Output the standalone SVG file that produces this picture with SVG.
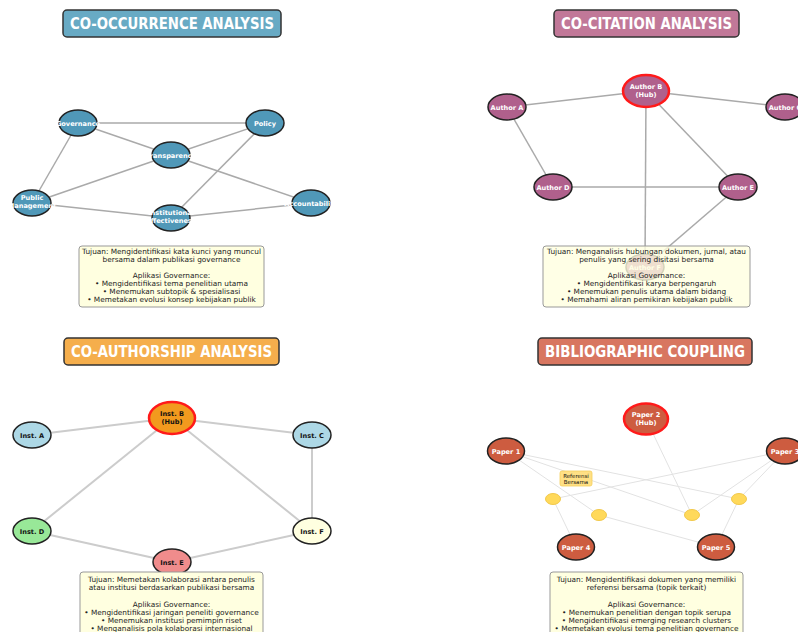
<svg xmlns="http://www.w3.org/2000/svg" width="798" height="632" viewBox="0 0 798 632">
<defs>
<style>
.title{font-family:"DejaVu Sans",sans-serif;font-weight:bold;font-size:15px;fill:#fff;text-anchor:middle}
.tbox{stroke:#333;stroke-width:1.5}
.nd{stroke:#222;stroke-width:1.5}
.hub{stroke:#ff1a1a;stroke-width:2.5}
.lw{font-family:"DejaVu Sans",sans-serif;font-weight:bold;font-size:6.6px;fill:#fff;text-anchor:middle}
.lb{font-family:"DejaVu Sans",sans-serif;font-weight:bold;font-size:6.6px;fill:#111;text-anchor:middle}
.info{fill:#ffffe0;stroke:#999;stroke-width:1}
.it{font-family:"DejaVu Sans",sans-serif;font-size:7.35px;fill:#222;text-anchor:middle}
.e1{stroke:#aaa;stroke-width:1.5;fill:none}
.e3{stroke:#ccc;stroke-width:2;fill:none}
.e4{stroke:#e2e2e2;stroke-width:1;fill:none}
.ref{fill:#ffd95a;stroke:#f2c94c;stroke-width:1}
</style>
</defs>
<rect width="798" height="632" fill="#fff"/>

<!-- ===== Panel 1: Co-occurrence ===== -->
<g id="title-cooccurrence">
<rect class="tbox" x="63" y="10" width="218" height="27" rx="4" fill="#68aac4"/>
<text class="title" x="172" y="29" textLength="204" lengthAdjust="spacingAndGlyphs">CO-OCCURRENCE ANALYSIS</text>
</g>
<g id="connectors-cooccurrence">
<line class="e1" x1="78" y1="123" x2="265" y2="123"/>
<line class="e1" x1="78" y1="123" x2="171" y2="155"/>
<line class="e1" x1="78" y1="123" x2="32" y2="203"/>
<line class="e1" x1="171" y1="155" x2="265" y2="123"/>
<line class="e1" x1="171" y1="155" x2="32" y2="203"/>
<line class="e1" x1="171" y1="155" x2="311" y2="203" stroke="#999"/>
<line class="e1" x1="265" y1="123" x2="171" y2="218"/>
<line class="e1" x1="32" y1="203" x2="171" y2="218"/>
<line class="e1" x1="171" y1="218" x2="311" y2="203"/>
</g>
<g id="node-governance"><ellipse class="nd" cx="78" cy="123" rx="19" ry="13" fill="#5098b8"/><text class="lw" x="78" y="125.5">Governance</text></g>
<g id="node-policy"><ellipse class="nd" cx="265" cy="123" rx="19" ry="13" fill="#5098b8"/><text class="lw" x="265" y="125.5">Policy</text></g>
<g id="node-transparency"><ellipse class="nd" cx="171" cy="155" rx="19" ry="13" fill="#5098b8"/><text class="lw" x="171" y="157.5">Transparency</text></g>
<g id="node-public-management"><ellipse class="nd" cx="32" cy="203" rx="19" ry="13" fill="#5098b8"/><text class="lw" x="32" y="200">Public</text><text class="lw" x="32" y="208">Management</text></g>
<g id="node-accountability"><ellipse class="nd" cx="311" cy="203" rx="19" ry="13" fill="#5098b8"/><text class="lw" x="311" y="205.5">Accountability</text></g>
<g id="node-institutional"><ellipse class="nd" cx="171" cy="218" rx="19" ry="13" fill="#5098b8"/><text class="lw" x="171" y="215">Institutional</text><text class="lw" x="171" y="223">Effectiveness</text></g>
<g id="info-cooccurrence">
<rect class="info" x="79" y="246" width="185" height="61" rx="3"/>
<text class="it" x="171.5" y="253.5">Tujuan: Mengidentifikasi kata kunci yang muncul</text>
<text class="it" x="171.5" y="261.7">bersama dalam publikasi governance</text>
<text class="it" x="171.5" y="277.5">Aplikasi Governance:</text>
<text class="it" x="171.5" y="285.7">• Mengidentifikasi tema penelitian utama</text>
<text class="it" x="171.5" y="294">• Menemukan subtopik &amp; spesialisasi</text>
<text class="it" x="171.5" y="302.2">• Memetakan evolusi konsep kebijakan publik</text>
</g>

<!-- ===== Panel 2: Co-citation ===== -->
<g id="title-cocitation">
<rect class="tbox" x="554" y="10" width="185" height="27" rx="4" fill="#c17898"/>
<text class="title" x="646.5" y="29" textLength="171" lengthAdjust="spacingAndGlyphs">CO-CITATION ANALYSIS</text>
</g>
<g id="connectors-cocitation">
<line class="e1" x1="507" y1="107" x2="646" y2="91"/>
<line class="e1" x1="646" y1="91" x2="785" y2="107"/>
<line class="e1" x1="507" y1="107" x2="553" y2="187"/>
<line class="e1" x1="553" y1="187" x2="738" y2="187" stroke="#bbb" stroke-width="1.2"/>
<line class="e1" x1="646" y1="91" x2="738" y2="187"/>
<line class="e1" x1="646" y1="91" x2="645" y2="267"/>
<line class="e1" x1="738" y1="187" x2="645" y2="267" stroke="#ccc" stroke-width="1"/>
</g>
<g id="node-author-b"><ellipse class="hub" cx="646" cy="91" rx="23" ry="16" fill="#b0608c"/><text class="lw" x="646" y="89">Author B</text><text class="lw" x="646" y="96.5">(Hub)</text></g>
<g id="node-author-a"><ellipse class="nd" cx="507" cy="107" rx="19" ry="13" fill="#b0608c"/><text class="lw" x="507" y="109.5">Author A</text></g>
<g id="node-author-c"><ellipse class="nd" cx="785" cy="107" rx="19" ry="13" fill="#b0608c"/><text class="lw" x="785" y="109.5">Author C</text></g>
<g id="node-author-d"><ellipse class="nd" cx="553" cy="187" rx="19" ry="13" fill="#b0608c"/><text class="lw" x="553" y="189.5">Author D</text></g>
<g id="node-author-e"><ellipse class="nd" cx="738" cy="187" rx="19" ry="13" fill="#b0608c"/><text class="lw" x="738" y="189.5">Author E</text></g>
<g id="node-author-f"><ellipse class="nd" cx="645" cy="267" rx="19" ry="13" fill="#b0608c"/><text class="lw" x="645" y="269.5">Author F</text></g>
<g id="info-cocitation">
<rect class="info" x="543" y="246" width="207" height="61" rx="3" fill-opacity="0.8"/>
<text class="it" x="646.5" y="253.5">Tujuan: Menganalisis hubungan dokumen, jurnal, atau</text>
<text class="it" x="646.5" y="261.7">penulis yang sering disitasi bersama</text>
<text class="it" x="646.5" y="277.5">Aplikasi Governance:</text>
<text class="it" x="646.5" y="285.7">• Mengidentifikasi karya berpengaruh</text>
<text class="it" x="646.5" y="294">• Menemukan penulis utama dalam bidang</text>
<text class="it" x="646.5" y="302.2">• Memahami aliran pemikiran kebijakan publik</text>
</g>

<!-- ===== Panel 3: Co-authorship ===== -->
<g id="title-coauthorship">
<rect class="tbox" x="64" y="338" width="215" height="27" rx="4" fill="#f5ae4c"/>
<text class="title" x="171.5" y="357" textLength="201" lengthAdjust="spacingAndGlyphs">CO-AUTHORSHIP ANALYSIS</text>
</g>
<g id="connectors-coauthorship">
<line class="e3" x1="32" y1="435" x2="172" y2="418"/>
<line class="e3" x1="172" y1="418" x2="312" y2="435"/>
<line class="e3" x1="172" y1="418" x2="32" y2="531"/>
<line class="e3" x1="172" y1="418" x2="312" y2="531"/>
<line class="e3" x1="312" y1="435" x2="312" y2="531"/>
<line class="e3" x1="32" y1="531" x2="172" y2="562"/>
<line class="e3" x1="172" y1="562" x2="312" y2="531"/>
</g>
<g id="node-inst-b"><ellipse class="hub" cx="172" cy="418" rx="23" ry="16" fill="#f29a1e"/><text class="lb" x="172" y="416">Inst. B</text><text class="lb" x="172" y="423.5">(Hub)</text></g>
<g id="node-inst-a"><ellipse class="nd" cx="32" cy="435" rx="19" ry="13" fill="#add8e6"/><text class="lb" x="32" y="437.5">Inst. A</text></g>
<g id="node-inst-c"><ellipse class="nd" cx="312" cy="435" rx="19" ry="13" fill="#add8e6"/><text class="lb" x="312" y="437.5">Inst. C</text></g>
<g id="node-inst-d"><ellipse class="nd" cx="32" cy="531" rx="19" ry="13" fill="#98e898"/><text class="lb" x="32" y="533.5">Inst. D</text></g>
<g id="node-inst-f"><ellipse class="nd" cx="312" cy="531" rx="19" ry="13" fill="#ffffe0"/><text class="lb" x="312" y="533.5">Inst. F</text></g>
<g id="node-inst-e"><ellipse class="nd" cx="172" cy="562" rx="19" ry="13" fill="#f08c8c"/><text class="lb" x="172" y="564.5">Inst. E</text></g>
<g id="info-coauthorship">
<rect class="info" x="80" y="572" width="183" height="70" rx="3"/>
<text class="it" x="171.5" y="581.5">Tujuan: Memetakan kolaborasi antara penulis</text>
<text class="it" x="171.5" y="590">atau institusi berdasarkan publikasi bersama</text>
<text class="it" x="171.5" y="606.5">Aplikasi Governance:</text>
<text class="it" x="171.5" y="614.8">• Mengidentifikasi jaringan peneliti governance</text>
<text class="it" x="171.5" y="623">• Menemukan institusi pemimpin riset</text>
<text class="it" x="171.5" y="631.3">• Menganalisis pola kolaborasi internasional</text>
</g>

<!-- ===== Panel 4: Bibliographic coupling ===== -->
<g id="title-bibliographic">
<rect class="tbox" x="538" y="338" width="214" height="27" rx="4" fill="#d87660"/>
<text class="title" x="645" y="357" textLength="200" lengthAdjust="spacingAndGlyphs">BIBLIOGRAPHIC COUPLING</text>
</g>
<g id="connectors-bibliographic">
<line class="e4" x1="506" y1="451" x2="599" y2="515"/>
<line class="e4" x1="506" y1="451" x2="692" y2="515"/>
<line class="e4" x1="506" y1="451" x2="739" y2="499"/>
<line class="e4" x1="785" y1="451" x2="553" y2="499"/>
<line class="e4" x1="785" y1="451" x2="692" y2="515"/>
<line class="e4" x1="785" y1="451" x2="739" y2="499"/>
<line class="e4" x1="646" y1="419" x2="692" y2="515"/>
<line class="e4" x1="553" y1="499" x2="576" y2="547"/>
<line class="e4" x1="599" y1="515" x2="716" y2="547"/>
<line class="e4" x1="739" y1="499" x2="716" y2="547"/>
</g>
<g id="ref-1"><ellipse class="ref" cx="553" cy="499" rx="7.5" ry="5.5"/></g>
<g id="ref-2"><ellipse class="ref" cx="599" cy="515" rx="7.5" ry="5.5"/></g>
<g id="ref-3"><ellipse class="ref" cx="692" cy="515" rx="7.5" ry="5.5"/></g>
<g id="ref-4"><ellipse class="ref" cx="739" cy="499" rx="7.5" ry="5.5"/></g>
<g id="label-referensi">
<rect x="560" y="471" width="32" height="15" rx="2" fill="#ffe085" stroke="#f5cf5a" stroke-width="0.8"/>
<text x="576" y="477.5" font-family="DejaVu Sans, sans-serif" font-size="5.5" fill="#111" text-anchor="middle">Referensi</text>
<text x="576" y="483.8" font-family="DejaVu Sans, sans-serif" font-size="5.5" fill="#111" text-anchor="middle">Bersama</text>
</g>
<g id="node-paper-2"><ellipse class="hub" cx="646" cy="419" rx="22" ry="15.5" fill="#cd5c40"/><text class="lw" x="646" y="417">Paper 2</text><text class="lw" x="646" y="424.5">(Hub)</text></g>
<g id="node-paper-1"><ellipse class="nd" cx="506" cy="451" rx="18.5" ry="13" fill="#cd5c40"/><text class="lw" x="506" y="453.5">Paper 1</text></g>
<g id="node-paper-3"><ellipse class="nd" cx="785" cy="451" rx="18.5" ry="13" fill="#cd5c40"/><text class="lw" x="785" y="453.5">Paper 3</text></g>
<g id="node-paper-4"><ellipse class="nd" cx="576" cy="547" rx="18.5" ry="13" fill="#cd5c40"/><text class="lw" x="576" y="549.5">Paper 4</text></g>
<g id="node-paper-5"><ellipse class="nd" cx="716" cy="547" rx="18.5" ry="13" fill="#cd5c40"/><text class="lw" x="716" y="549.5">Paper 5</text></g>
<g id="info-bibliographic">
<rect class="info" x="550" y="572" width="193" height="70" rx="3"/>
<text class="it" x="646.5" y="581.5">Tujuan: Mengidentifikasi dokumen yang memiliki</text>
<text class="it" x="646.5" y="590">referensi bersama (topik terkait)</text>
<text class="it" x="646.5" y="606.5">Aplikasi Governance:</text>
<text class="it" x="646.5" y="614.8">• Menemukan penelitian dengan topik serupa</text>
<text class="it" x="646.5" y="623">• Mengidentifikasi emerging research clusters</text>
<text class="it" x="646.5" y="631.3">• Memetakan evolusi tema penelitian governance</text>
</g>
</svg>
